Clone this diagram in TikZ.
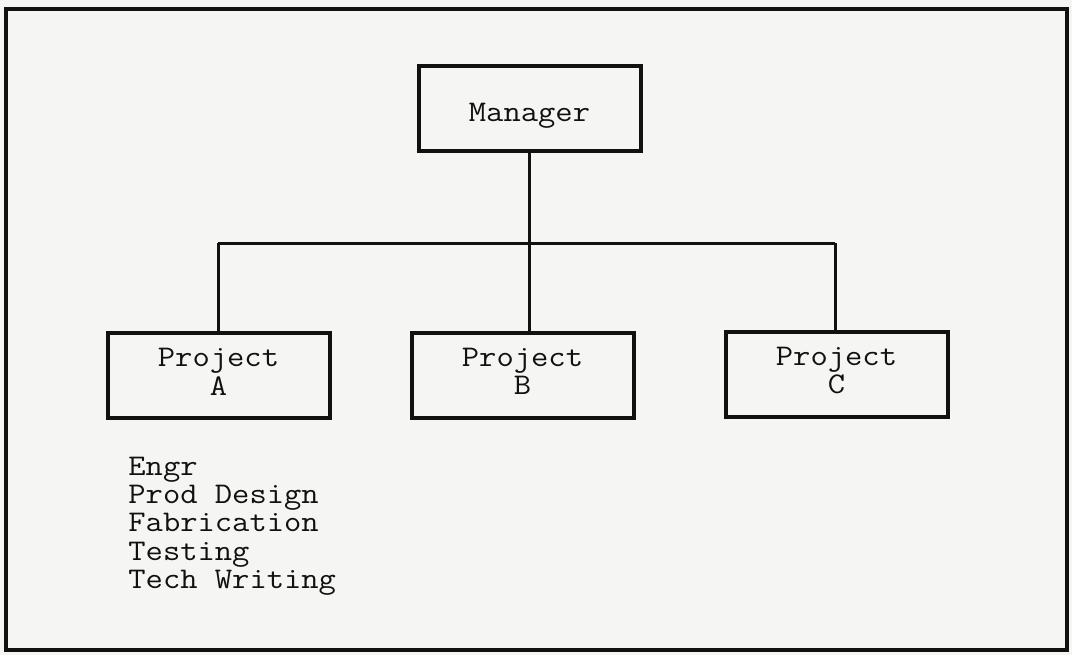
\documentclass[tikz,border=0pt]{standalone}
\usepackage{fontspec}
\usepackage{graphicx}

% typewriter text, slightly widened and inked like a typed page
\newcommand{\typeface}{\fontsize{15}{14.2}\selectfont\ttfamily\addfontfeatures{FakeBold=0.8}}
\newcommand{\boxtext}[1]{\scalebox{1.12}[1]{\typeface
  \begin{tabular}{@{}c@{}}#1\end{tabular}}}
\newcommand{\listtext}[1]{\scalebox{1.12}[1]{\typeface
  \begin{tabular}[t]{@{}l@{}}#1\end{tabular}}}

\definecolor{paper}{HTML}{F5F5F3}
\definecolor{ink}{HTML}{111111}

\tikzset{
  unitbox/.style={draw=ink, line width=2pt, inner sep=0pt, text=ink,
    minimum width=111pt, minimum height=42.5pt},
  link/.style={draw=ink, line width=1.5pt},
  frame/.style={draw=ink, line width=1.7pt}
}

\begin{document}
\begin{tikzpicture}[x=0.5pt, y=-0.5pt]
  % page and outer frame
  \fill[paper] (0,0) rectangle (1072,655);
  \useasboundingbox (0,0) rectangle (1072,655);
  \draw[frame] (6,9) rectangle (1067,650);

  % organisation boxes (the manager's label sits a little low in its box)
  \node[unitbox] (mgr) at (529.5,108)
    {\raisebox{0pt}[\dimexpr\height+8pt\relax]{\boxtext{Manager}}};
  \node[unitbox] (pa)  at (218.5,375.5) {\boxtext{Project\\A}};
  \node[unitbox] (pb)  at (522.5,375) {\boxtext{Project\\B}};
  \node[unitbox] (pc)  at (836.5,374) {\boxtext{Project\\C}};

  % branch line
  \coordinate (jl) at (218,243);
  \coordinate (jr) at (835,243);
  \draw[link] (jl) -- (jr);
  \draw[link] (mgr.south) -- (mgr.south |- pb.north);
  \draw[link] (jl) -- (jl |- pa.north);
  \draw[link] (jr) -- (jr |- pc.north);

  % functions within a project
  \node[anchor=base west, inner sep=0pt, text=ink] (funcs) at (128,475)
    {\listtext{Engr\\Prod Design\\Fabrication\\Testing\\Tech Writing}};
\end{tikzpicture}
\end{document}
